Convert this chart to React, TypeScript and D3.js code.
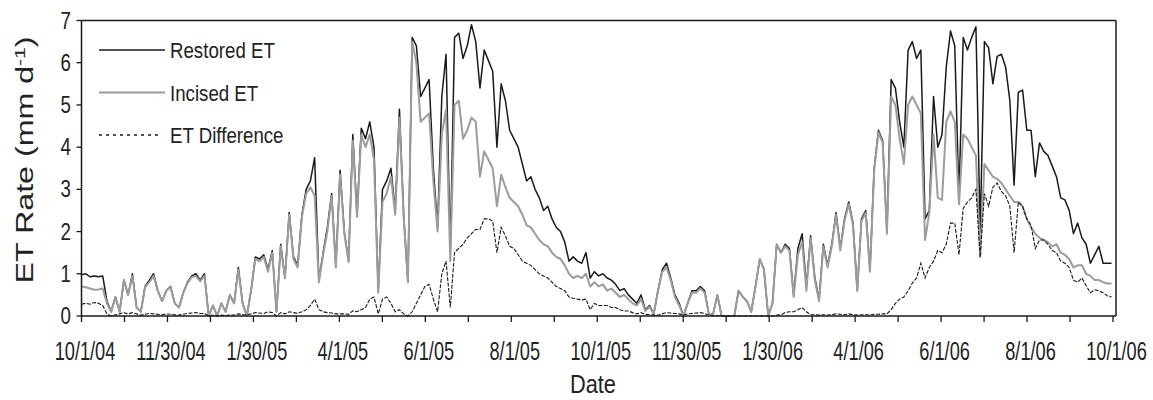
import React from 'react';
import * as d3 from 'd3';

// Daily ET series sampled every 3 days from 10/1/04 (day 0) to 9/30/06 (day 729).
const STEP_DAYS = 3;
const SPAN_DAYS = 730;

const restoredET = [
  0.98, 1.0, 0.93, 0.95, 0.93, 0.95, 0.35, 0.1, 0.45, 0.1,
  0.85, 0.5, 1.0, 0.2, 0.1, 0.7, 0.85, 1.0, 0.6, 0.35,
  0.6, 0.7, 0.3, 0.2, 0.55, 0.8, 0.95, 1.0, 0.85, 1.0,
  0.0, 0.25, 0.0, 0.3, 0.1, 0.5, 0.3, 1.15, 0.3, 0.0,
  0.6, 1.4, 1.35, 1.45, 1.1, 1.55, 0.1, 1.7, 0.9, 2.45,
  1.4, 1.2, 2.4, 3.0, 3.2, 3.75, 0.85, 1.5, 2.1, 2.9,
  1.2, 3.45, 2.0, 1.3, 4.3, 2.4, 4.45, 4.2, 4.6, 4.0,
  0.6, 3.0, 3.2, 3.5, 2.5, 4.9, 2.4, 0.8, 6.6, 6.4,
  5.2, 5.4, 5.6, 3.5, 2.1, 5.2, 6.2, 1.5, 6.6, 6.7,
  6.1, 6.4, 6.9, 6.5, 5.4, 6.3, 6.05, 5.8, 4.0, 5.5,
  5.1, 4.4, 4.2, 4.0, 3.6, 3.2, 3.3, 3.0, 2.8, 2.5,
  2.6, 2.3, 2.1, 2.0, 1.75, 1.3, 1.4, 1.3, 1.25, 1.5,
  0.9, 1.05, 0.95, 1.0, 0.9, 0.85, 0.75, 0.6, 0.65, 0.5,
  0.4, 0.3, 0.5, 0.15, 0.25, 0.05, 0.6, 1.1, 1.25, 0.9,
  0.5, 0.3, 0.0, 0.3, 0.6, 0.6, 0.7, 0.6, 0.05, 0.05,
  0.5, 0.0, 0.0, 0.0, 0.0, 0.6, 0.45, 0.35, 0.1, 0.7,
  1.35, 1.1, 0.0, 0.3, 1.7, 1.5, 1.7, 1.6, 0.5, 1.6,
  1.95, 0.7, 1.9, 0.9, 0.4, 1.7, 1.2, 1.7, 2.45, 1.6,
  2.3, 2.7, 2.2, 0.6, 2.3, 2.5, 1.1, 3.5, 4.4, 4.15,
  2.0, 5.6, 5.4, 4.6, 4.0, 6.3, 6.5, 6.1, 6.3, 2.3,
  2.5, 5.2, 4.0, 4.3, 5.9, 6.75, 6.4, 2.8, 6.6, 6.3,
  6.6, 6.85, 2.0, 6.5, 6.35, 5.5, 6.15, 6.2, 5.9, 5.1,
  3.1, 5.3, 5.35, 4.4, 4.4, 3.3, 4.1, 3.9, 3.8, 3.55,
  3.3, 2.8, 2.75, 2.5, 1.95, 2.2, 1.85, 1.7, 1.25, 1.45,
  1.65, 1.25, 1.25, 1.25,
];

const incisedET = [
  0.7, 0.68, 0.65, 0.62, 0.63, 0.65, 0.3, 0.1, 0.45, 0.1,
  0.85, 0.5, 0.95, 0.2, 0.1, 0.68, 0.8, 0.95, 0.6, 0.35,
  0.6, 0.68, 0.3, 0.2, 0.55, 0.78, 0.92, 0.95, 0.82, 0.95,
  0.0, 0.25, 0.0, 0.3, 0.1, 0.5, 0.3, 1.1, 0.3, 0.0,
  0.6, 1.35, 1.3, 1.4, 1.05, 1.5, 0.1, 1.65, 0.9, 2.4,
  1.35, 1.15, 2.35, 2.9, 3.05, 2.85, 0.8, 1.45, 2.0, 2.85,
  1.15, 3.35, 1.95, 1.28, 4.15, 2.35, 4.3, 4.0, 4.3, 3.7,
  0.55, 2.7, 2.9, 3.3, 2.4, 4.7, 2.35, 0.8, 6.5, 6.0,
  4.6, 4.7, 4.8, 3.2, 2.0, 4.3, 4.9, 1.3, 5.0, 5.1,
  4.2, 4.4, 4.7, 4.6, 3.3, 3.9, 3.7, 3.5, 2.6, 3.35,
  3.05, 2.8, 2.7, 2.6, 2.4, 2.15, 2.1, 1.95, 1.8, 1.7,
  1.65, 1.5, 1.4, 1.35, 1.2, 1.0, 0.9, 0.95, 0.9, 1.0,
  0.7, 0.8, 0.7, 0.75, 0.6, 0.65, 0.55, 0.45, 0.5, 0.4,
  0.3, 0.25, 0.4, 0.12, 0.22, 0.05, 0.6, 1.05, 1.15, 0.85,
  0.45, 0.25, 0.0, 0.3, 0.55, 0.55, 0.65, 0.55, 0.05, 0.05,
  0.5, 0.0, 0.0, 0.0, 0.0, 0.6, 0.45, 0.35, 0.1, 0.7,
  1.35, 1.1, 0.0, 0.3, 1.7, 1.5, 1.65, 1.55, 0.45, 1.45,
  1.75, 0.6, 1.85, 0.85, 0.35, 1.65, 1.15, 1.65, 2.4, 1.55,
  2.25, 2.65, 2.15, 0.6, 2.25, 2.45, 1.05, 3.45, 4.35, 4.1,
  1.95, 5.2, 5.0, 4.2, 3.6, 5.0, 5.2, 5.0, 4.8, 1.8,
  2.45, 4.3, 2.8, 2.75, 4.6, 4.85, 4.6, 2.65, 4.3, 4.2,
  4.0, 3.8, 1.4, 3.6, 3.45, 3.3, 3.25, 3.15, 3.0, 2.85,
  2.7, 2.7, 2.6, 2.3, 2.1, 1.95, 1.85, 1.8, 1.75, 1.65,
  1.7, 1.5, 1.45, 1.35, 1.15, 1.2, 1.2, 1.0, 0.95, 0.85,
  0.85, 0.8, 0.77, 0.77,
];

const etDifference = [
  0.28, 0.3, 0.28, 0.32, 0.3, 0.25, 0.05, 0.0, 0.03, 0.05,
  0.08, 0.05, 0.08, 0.05, 0.02, 0.04, 0.06, 0.05, 0.04, 0.03,
  0.05, 0.04, 0.03, 0.02, 0.04, 0.06, 0.07, 0.08, 0.06, 0.06,
  0.0, 0.02, 0.0, 0.02, 0.01, 0.02, 0.02, 0.05, 0.03, 0.03,
  0.05, 0.08, 0.07, 0.06, 0.1, 0.08, 0.0, 0.08, 0.05, 0.1,
  0.08, 0.06, 0.1, 0.15, 0.25, 0.4, 0.15, 0.1, 0.08, 0.07,
  0.05, 0.05, 0.05, 0.04, 0.12, 0.1, 0.15, 0.2, 0.4, 0.45,
  0.05, 0.4, 0.45, 0.3, 0.1, 0.15, 0.05, 0.0, 0.1, 0.3,
  0.5, 0.7, 0.75, 0.4, 0.1, 1.0, 1.3, 0.2, 1.5, 1.6,
  1.7, 1.85, 1.95, 2.05, 2.05, 2.3, 2.3, 2.25, 1.5, 2.1,
  1.9, 1.65, 1.6, 1.45, 1.3, 1.25, 1.2, 1.1, 1.0, 0.95,
  0.9, 0.8, 0.7, 0.65, 0.6, 0.45, 0.42, 0.4, 0.38, 0.4,
  0.15, 0.3, 0.25, 0.25, 0.25, 0.2, 0.2, 0.15, 0.12, 0.12,
  0.08, 0.05, 0.08, 0.04, 0.03, 0.02, 0.02, 0.05, 0.08, 0.07,
  0.06, 0.05, 0.02, 0.05, 0.06, 0.07, 0.08, 0.06, 0.02, 0.01,
  0.01, 0.0, 0.0, 0.0, 0.0, 0.0, 0.0, 0.0, 0.0, 0.0,
  0.0, 0.0, 0.0, 0.0, 0.02, 0.03, 0.08, 0.1, 0.1, 0.15,
  0.2, 0.1, 0.03, 0.03, 0.02, 0.03, 0.02, 0.03, 0.05, 0.04,
  0.03, 0.05, 0.03, 0.02, 0.03, 0.03, 0.03, 0.04, 0.04, 0.05,
  0.05, 0.15, 0.3, 0.4, 0.45, 0.6, 0.78, 0.9, 1.25, 0.9,
  1.15, 1.3, 1.55, 1.5, 1.7, 2.2, 2.2, 1.45, 2.55, 2.7,
  2.8, 3.0, 1.4, 2.9, 2.6, 3.05, 3.15, 2.95, 2.85, 2.6,
  1.5, 2.7, 2.6, 2.3, 2.15, 1.6, 1.8, 1.8, 1.7, 1.55,
  1.5, 1.3, 1.25, 1.15, 0.85, 0.8, 0.9, 0.72, 0.55, 0.62,
  0.6, 0.55, 0.48, 0.45,
];

const xTickLabels = [
  '10/1/04', '11/30/04', '1/30/05', '4/1/05', '6/1/05', '8/1/05', '10/1/05',
  '11/30/05', '1/30/06', '4/1/06', '6/1/06', '8/1/06', '10/1/06',
];
const yTickValues = [0, 1, 2, 3, 4, 5, 6, 7];

const legendItems = [
  { label: 'Restored ET', key: 'restored' },
  { label: 'Incised ET', key: 'incised' },
  { label: 'ET Difference', key: 'diff' },
];

const W = 1153;
const H = 400;
const plot = { left: 81.5, right: 1113, frameRight: 1116, top: 20.5, bottom: 316 };
const FONT = "'Liberation Sans', Arial, Helvetica, sans-serif";

const styles: Record<string, { stroke: string; width: number; dash?: string }> = {
  restored: { stroke: '#1a1a1a', width: 1.5 },
  incised: { stroke: '#9c9c9c', width: 2 },
  diff: { stroke: '#1a1a1a', width: 1.1, dash: '4,1.5' },
};

export default function App() {
  const x = d3.scaleLinear().domain([0, SPAN_DAYS]).range([plot.left, plot.right]);
  const y = d3.scaleLinear().domain([0, 7]).range([plot.bottom, plot.top]);

  const line = d3
    .line<number>()
    .x((_, i) => x(i * STEP_DAYS))
    .y((v) => y(v));

  // 25 evenly spaced ticks; every second one carries a date label
  const tickCount = (xTickLabels.length - 1) * 2;
  const ticks = d3.range(tickCount + 1).map((k) => (k * SPAN_DAYS) / tickCount);

  const axisColor = '#1a1a1a';

  return (
    <svg
      width={W}
      height={H}
      viewBox={`0 0 ${W} ${H}`}
      style={{ position: 'absolute', left: 0, top: 0, background: '#fff' }}
      fontFamily={FONT}
    >
      <rect x={0} y={0} width={W} height={H} fill="#fff" />

      {/* series */}
      <path d={line(restoredET) || ''} fill="none" stroke={styles.restored.stroke} strokeWidth={styles.restored.width} strokeLinejoin="round" />
      <path d={line(incisedET) || ''} fill="none" stroke={styles.incised.stroke} strokeWidth={styles.incised.width} strokeLinejoin="round" />
      <path d={line(etDifference) || ''} fill="none" stroke={styles.diff.stroke} strokeWidth={styles.diff.width} strokeDasharray={styles.diff.dash} />

      {/* frame */}
      <line x1={plot.left} x2={plot.frameRight} y1={plot.top} y2={plot.top} stroke={axisColor} strokeWidth={1.5} />
      <line x1={plot.frameRight} x2={plot.frameRight} y1={plot.top} y2={plot.bottom} stroke={axisColor} strokeWidth={1.5} />
      <line x1={plot.left} x2={plot.frameRight} y1={plot.bottom} y2={plot.bottom} stroke={axisColor} strokeWidth={1.5} />
      <line x1={plot.left} x2={plot.left} y1={plot.top} y2={plot.bottom} stroke={axisColor} strokeWidth={1.5} />

      {/* y axis */}
      {yTickValues.map((v) => (
        <g key={`y${v}`}>
          <line x1={plot.left - 5} x2={plot.left} y1={y(v)} y2={y(v)} stroke={axisColor} strokeWidth={1.3} />
          <text
            transform={`translate(71,${y(v) + 8}) scale(0.85,1.05)`}
            textAnchor="end"
            fontSize={22}
            fill="#222"
          >
            {v}
          </text>
        </g>
      ))}

      {/* x axis */}
      {ticks.map((t, k) => (
        <line key={`xt${k}`} x1={x(t)} x2={x(t)} y1={plot.bottom} y2={plot.bottom + 6} stroke={axisColor} strokeWidth={1.3} />
      ))}
      {xTickLabels.map((lab, k) => (
        <text
          key={`xl${k}`}
          transform={`translate(${x(ticks[k * 2]) + 3.5},360) scale(0.7,1)`}
          textAnchor="middle"
          fontSize={26}
          fill="#222"
        >
          {lab}
        </text>
      ))}

      {/* axis titles */}
      <text transform="translate(593,393) scale(0.87,1)" textAnchor="middle" fontSize={25} fill="#222">
        Date
      </text>
      <text transform="translate(33,160) rotate(-90) scale(1.4,1)" textAnchor="middle" fontSize={23} fill="#222">
        ET Rate (mm d<tspan fontSize={15} dy={-8}>-1</tspan>
        <tspan dy={8}>)</tspan>
      </text>

      {/* legend */}
      {legendItems.map((item, k) => {
        const s = styles[item.key];
        const ly = 50 + k * 42.5;
        return (
          <g key={item.key}>
            <line x1={99} x2={item.key === 'diff' ? 162 : 165} y1={ly} y2={ly} stroke={s.stroke} strokeWidth={item.key === 'diff' ? 1.4 : s.width} strokeDasharray={item.key === 'diff' ? '3,4' : undefined} />
            <text transform={`translate(170,${ly + 8}) scale(0.89,1.05)`} fontSize={21} fill="#222">
              {item.label}
            </text>
          </g>
        );
      })}
    </svg>
  );
}
